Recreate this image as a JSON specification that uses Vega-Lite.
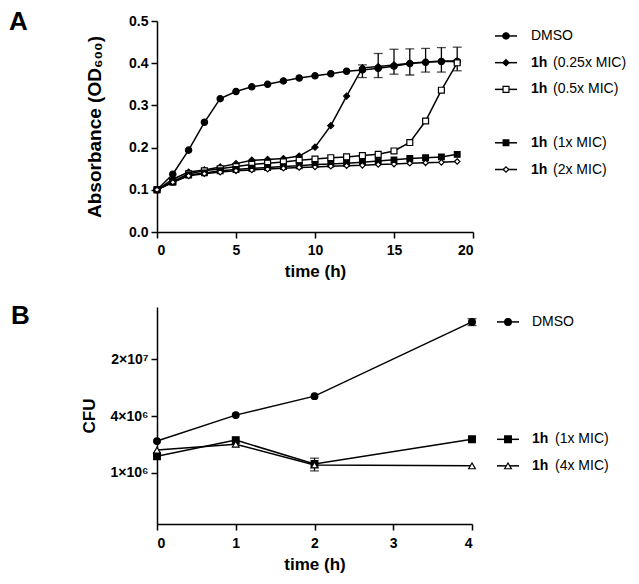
{
  "$schema": "https://vega.github.io/schema/vega-lite/v6.json",
  "padding": {"left": 9, "top": 9, "right": 5, "bottom": 4},
  "config": {
    "font": "Liberation Sans",
    "view": {"stroke": null},
    "axis": {
      "grid": false,
      "domainColor": "black", "domainWidth": 1.5,
      "tickColor": "black", "tickWidth": 1.5, "tickSize": 6,
      "labelFont": "Liberation Sans", "labelFontWeight": "bold", "labelFontSize": 14, "labelColor": "black", "labelPadding": 3,
      "titleFont": "Liberation Sans", "titleFontWeight": "bold", "titleFontSize": 17, "titleColor": "black"
    }
  },
  "resolve": {"scale": {"shape": "independent", "fill": "independent", "size": "independent"}},
  "datasets": {
    "growth": [
      {"series":"DMSO","time":0,"od":0.100},{"series":"DMSO","time":1,"od":0.137},{"series":"DMSO","time":2,"od":0.194},{"series":"DMSO","time":3,"od":0.260},{"series":"DMSO","time":4,"od":0.316},{"series":"DMSO","time":5,"od":0.333},{"series":"DMSO","time":6,"od":0.344},{"series":"DMSO","time":7,"od":0.350},{"series":"DMSO","time":8,"od":0.358},{"series":"DMSO","time":9,"od":0.365},{"series":"DMSO","time":10,"od":0.370},{"series":"DMSO","time":11,"od":0.375},{"series":"DMSO","time":12,"od":0.381},{"series":"DMSO","time":13,"od":0.384},{"series":"DMSO","time":14,"od":0.388},{"series":"DMSO","time":15,"od":0.393},{"series":"DMSO","time":16,"od":0.399},{"series":"DMSO","time":17,"od":0.402},{"series":"DMSO","time":18,"od":0.404},{"series":"DMSO","time":19,"od":0.404},
      {"series":"0.25x MIC","time":0,"od":0.100},{"series":"0.25x MIC","time":1,"od":0.125},{"series":"0.25x MIC","time":2,"od":0.142},{"series":"0.25x MIC","time":3,"od":0.147},{"series":"0.25x MIC","time":4,"od":0.154},{"series":"0.25x MIC","time":5,"od":0.162},{"series":"0.25x MIC","time":6,"od":0.170},{"series":"0.25x MIC","time":7,"od":0.172},{"series":"0.25x MIC","time":8,"od":0.174},{"series":"0.25x MIC","time":9,"od":0.180},{"series":"0.25x MIC","time":10,"od":0.201},{"series":"0.25x MIC","time":11,"od":0.252},{"series":"0.25x MIC","time":12,"od":0.322},{"series":"0.25x MIC","time":13,"od":0.389},{"series":"0.25x MIC","time":14,"od":0.392},{"series":"0.25x MIC","time":15,"od":0.396},{"series":"0.25x MIC","time":16,"od":0.400},{"series":"0.25x MIC","time":17,"od":0.403},{"series":"0.25x MIC","time":18,"od":0.405},{"series":"0.25x MIC","time":19,"od":0.405},
      {"series":"0.5x MIC","time":0,"od":0.100},{"series":"0.5x MIC","time":1,"od":0.120},{"series":"0.5x MIC","time":2,"od":0.138},{"series":"0.5x MIC","time":3,"od":0.145},{"series":"0.5x MIC","time":4,"od":0.150},{"series":"0.5x MIC","time":5,"od":0.155},{"series":"0.5x MIC","time":6,"od":0.160},{"series":"0.5x MIC","time":7,"od":0.163},{"series":"0.5x MIC","time":8,"od":0.166},{"series":"0.5x MIC","time":9,"od":0.170},{"series":"0.5x MIC","time":10,"od":0.173},{"series":"0.5x MIC","time":11,"od":0.176},{"series":"0.5x MIC","time":12,"od":0.178},{"series":"0.5x MIC","time":13,"od":0.181},{"series":"0.5x MIC","time":14,"od":0.184},{"series":"0.5x MIC","time":15,"od":0.192},{"series":"0.5x MIC","time":16,"od":0.212},{"series":"0.5x MIC","time":17,"od":0.263},{"series":"0.5x MIC","time":18,"od":0.336},{"series":"0.5x MIC","time":19,"od":0.401},
      {"series":"1x MIC","time":0,"od":0.100},{"series":"1x MIC","time":1,"od":0.118},{"series":"1x MIC","time":2,"od":0.135},{"series":"1x MIC","time":3,"od":0.140},{"series":"1x MIC","time":4,"od":0.145},{"series":"1x MIC","time":5,"od":0.148},{"series":"1x MIC","time":6,"od":0.151},{"series":"1x MIC","time":7,"od":0.153},{"series":"1x MIC","time":8,"od":0.155},{"series":"1x MIC","time":9,"od":0.157},{"series":"1x MIC","time":10,"od":0.160},{"series":"1x MIC","time":11,"od":0.161},{"series":"1x MIC","time":12,"od":0.163},{"series":"1x MIC","time":13,"od":0.165},{"series":"1x MIC","time":14,"od":0.168},{"series":"1x MIC","time":15,"od":0.171},{"series":"1x MIC","time":16,"od":0.174},{"series":"1x MIC","time":17,"od":0.176},{"series":"1x MIC","time":18,"od":0.178},{"series":"1x MIC","time":19,"od":0.184},
      {"series":"2x MIC","time":0,"od":0.100},{"series":"2x MIC","time":1,"od":0.118},{"series":"2x MIC","time":2,"od":0.133},{"series":"2x MIC","time":3,"od":0.138},{"series":"2x MIC","time":4,"od":0.142},{"series":"2x MIC","time":5,"od":0.145},{"series":"2x MIC","time":6,"od":0.147},{"series":"2x MIC","time":7,"od":0.149},{"series":"2x MIC","time":8,"od":0.151},{"series":"2x MIC","time":9,"od":0.153},{"series":"2x MIC","time":10,"od":0.154},{"series":"2x MIC","time":11,"od":0.156},{"series":"2x MIC","time":12,"od":0.157},{"series":"2x MIC","time":13,"od":0.158},{"series":"2x MIC","time":14,"od":0.160},{"series":"2x MIC","time":15,"od":0.161},{"series":"2x MIC","time":16,"od":0.163},{"series":"2x MIC","time":17,"od":0.164},{"series":"2x MIC","time":18,"od":0.165},{"series":"2x MIC","time":19,"od":0.167}
    ],
    "growthErr": [
      {"series":"0.25x MIC","time":13,"lo":0.366,"hi":0.396},
      {"series":"0.25x MIC","time":14,"lo":0.366,"hi":0.423},
      {"series":"0.25x MIC","time":15,"lo":0.374,"hi":0.433},
      {"series":"0.25x MIC","time":16,"lo":0.372,"hi":0.434},
      {"series":"0.25x MIC","time":17,"lo":0.379,"hi":0.435},
      {"series":"0.25x MIC","time":18,"lo":0.379,"hi":0.437},
      {"series":"0.25x MIC","time":19,"lo":0.382,"hi":0.438}
    ],
    "legendA": [
      {"series":"DMSO","slot":0},
      {"series":"0.25x MIC","slot":1},
      {"series":"0.5x MIC","slot":2},
      {"series":"1x MIC","slot":4},
      {"series":"2x MIC","slot":5}
    ],
    "cfu": [
      {"series":"DMSO","time":0,"cfu":2310000},{"series":"DMSO","time":1,"cfu":4590000},{"series":"DMSO","time":2,"cfu":7580000},{"series":"DMSO","time":4,"cfu":53900000},
      {"series":"1x MIC","time":0,"cfu":1550000},{"series":"1x MIC","time":1,"cfu":2370000},{"series":"1x MIC","time":2,"cfu":1260000},{"series":"1x MIC","time":4,"cfu":2420000},
      {"series":"4x MIC","time":0,"cfu":1820000},{"series":"4x MIC","time":1,"cfu":2130000},{"series":"4x MIC","time":2,"cfu":1230000},{"series":"4x MIC","time":4,"cfu":1200000}
    ],
    "cfuErr": [
      {"series":"1x MIC","time":2,"lo":1050000,"hi":1470000},
      {"series":"DMSO","time":4,"lo":49000000,"hi":58700000}
    ]
  },
  "columns": 1,
  "align": "none",
  "spacing": 24,
  "concat": [
    {
      "width": 316,
      "height": 211,
      "title": {"text": "A", "anchor": "start", "frame": "group", "fontSize": 26, "fontWeight": "bold", "color": "black", "baseline": "alphabetic", "offset": -42, "dx": -148},
      "resolve": {"scale": {"y": "independent"}},
      "layer": [
        {
          "layer": [
            {
              "data": {"name": "growth"},
              "mark": {"type": "line", "color": "black", "strokeWidth": 1.5},
              "encoding": {
                "x": {"field": "time", "type": "quantitative", "scale": {"domain": [0, 20]}, "axis": {"values": [0, 5, 10, 15, 20], "format": "d", "title": "time (h)", "titlePadding": 6, "labelPadding": 5}},
                "y": {"field": "od", "type": "quantitative", "scale": {"domain": [0, 0.5], "nice": false}, "axis": {"values": [0, 0.1, 0.2, 0.3, 0.4, 0.5], "format": ".1f", "title": "Absorbance (OD₆₀₀)", "titlePadding": 24, "titleFontSize": 19}},
                "detail": {"field": "series"}
              }
            },
            {
              "data": {"name": "growthErr"},
              "mark": {"type": "errorbar", "color": "black", "thickness": 1.3, "ticks": {"size": 9, "thickness": 1.3}},
              "encoding": {
                "x": {"field": "time", "type": "quantitative", "title": "time (h)"},
                "y": {"field": "lo", "type": "quantitative", "title": "Absorbance (OD₆₀₀)"},
                "y2": {"field": "hi"}
              }
            },
            {
              "data": {"name": "growth"},
              "mark": {"type": "point", "filled": true, "stroke": "black", "strokeWidth": 1.2, "opacity": 1},
              "encoding": {
                "x": {"field": "time", "type": "quantitative", "title": "time (h)"},
                "y": {"field": "od", "type": "quantitative", "title": "Absorbance (OD₆₀₀)"},
                "shape": {"field": "series", "type": "nominal", "scale": {"domain": ["DMSO", "0.25x MIC", "0.5x MIC", "1x MIC", "2x MIC"], "range": ["circle", "diamond", "square", "square", "diamond"]}, "legend": null},
                "fill": {"field": "series", "type": "nominal", "scale": {"domain": ["DMSO", "0.25x MIC", "0.5x MIC", "1x MIC", "2x MIC"], "range": ["black", "black", "white", "black", "white"]}, "legend": null},
                "size": {"field": "series", "type": "nominal", "scale": {"domain": ["DMSO", "0.25x MIC", "0.5x MIC", "1x MIC", "2x MIC"], "range": [40, 30, 40, 36, 36]}, "legend": null}
              }
            }
          ]
        },
        {
          "data": {"name": "legendA"},
          "transform": [
            {"calculate": "datum.series == 'DMSO' ? '' : '1h'", "as": "boldPart"},
            {"calculate": "datum.series == 'DMSO' ? 'DMSO' : '(' + datum.series + ')'", "as": "restPart"}
          ],
          "encoding": {
            "x": {"datum": 20, "type": "quantitative"},
            "y": {"field": "slot", "type": "quantitative", "scale": {"domain": [-0.56, 7.34], "reverse": true, "nice": false, "zero": false}, "axis": null}
          },
          "layer": [
            {"mark": {"type": "rule", "color": "black", "strokeWidth": 1.5, "xOffset": 22, "x2Offset": 44}, "encoding": {"x2": {"datum": 20}}},
            {
              "mark": {"type": "point", "filled": true, "stroke": "black", "strokeWidth": 1.2, "opacity": 1, "xOffset": 33},
              "encoding": {
                "shape": {"field": "series", "type": "nominal", "scale": {"domain": ["DMSO", "0.25x MIC", "0.5x MIC", "1x MIC", "2x MIC"], "range": ["circle", "diamond", "square", "square", "diamond"]}, "legend": null},
                "fill": {"field": "series", "type": "nominal", "scale": {"domain": ["DMSO", "0.25x MIC", "0.5x MIC", "1x MIC", "2x MIC"], "range": ["black", "black", "white", "black", "white"]}, "legend": null},
                "size": {"field": "series", "type": "nominal", "scale": {"domain": ["DMSO", "0.25x MIC", "0.5x MIC", "1x MIC", "2x MIC"], "range": [40, 30, 40, 36, 36]}, "legend": null}
              }
            },
            {"transform": [{"filter": "datum.boldPart != ''"}], "mark": {"type": "text", "align": "left", "baseline": "middle", "dx": 58, "fontSize": 14, "fontWeight": "bold", "color": "black"}, "encoding": {"text": {"field": "boldPart"}}},
            {"transform": [{"filter": "datum.boldPart != ''"}], "mark": {"type": "text", "align": "left", "baseline": "middle", "dx": 80, "fontSize": 14, "color": "black"}, "encoding": {"text": {"field": "restPart"}}},
            {"transform": [{"filter": "datum.boldPart == ''"}], "mark": {"type": "text", "align": "left", "baseline": "middle", "dx": 58, "fontSize": 14, "color": "black"}, "encoding": {"text": {"field": "restPart"}}}
          ]
        }
      ]
    },
    {
      "width": 315,
      "height": 217,
      "title": {"text": "B", "anchor": "start", "frame": "group", "fontSize": 26, "fontWeight": "bold", "color": "black", "baseline": "alphabetic", "offset": -43, "dx": -146},
      "layer": [
        {
          "data": {"name": "cfu"},
          "mark": {"type": "line", "color": "black", "strokeWidth": 1.5},
          "encoding": {
            "x": {"field": "time", "type": "quantitative", "scale": {"domain": [0, 4]}, "axis": {"values": [0, 1, 2, 3, 4], "format": "d", "title": "time (h)", "titlePadding": 6, "labelPadding": 6}},
            "y": {"field": "cfu", "type": "quantitative", "scale": {"type": "log", "domain": [258000, 80000000], "nice": false}, "axis": {"values": [1000000, 4477000, 20000000], "labelExpr": "datum.value < 2000000 ? '1×10⁶' : (datum.value < 10000000 ? '4×10⁶' : '2×10⁷')", "title": "CFU", "titlePadding": 12}},
            "detail": {"field": "series"}
          }
        },
        {
          "data": {"name": "cfuErr"},
          "mark": {"type": "errorbar", "color": "black", "thickness": 1.3, "ticks": {"size": 9, "thickness": 1.3}},
          "encoding": {
            "x": {"field": "time", "type": "quantitative", "title": "time (h)"},
            "y": {"field": "lo", "type": "quantitative", "title": "CFU"},
            "y2": {"field": "hi"}
          }
        },
        {
          "data": {"name": "cfu"},
          "mark": {"type": "point", "filled": true, "stroke": "black", "strokeWidth": 1.2, "opacity": 1},
          "encoding": {
            "x": {"field": "time", "type": "quantitative", "title": "time (h)"},
            "y": {"field": "cfu", "type": "quantitative", "title": "CFU"},
            "shape": {"field": "series", "type": "nominal", "scale": {"domain": ["DMSO", "1x MIC", "4x MIC"], "range": ["circle", "square", "triangle-up"]}, "legend": null},
            "fill": {"field": "series", "type": "nominal", "scale": {"domain": ["DMSO", "1x MIC", "4x MIC"], "range": ["black", "black", "white"]}, "legend": null},
            "size": {"field": "series", "type": "nominal", "scale": {"domain": ["DMSO", "1x MIC", "4x MIC"], "range": [45, 45, 70]}, "legend": null}
          }
        },
        {
          "data": {"name": "cfu"},
          "transform": [
            {"filter": "datum.time == 4"},
            {"calculate": "datum.series == 'DMSO' ? '' : '1h'", "as": "boldPart"},
            {"calculate": "datum.series == 'DMSO' ? 'DMSO' : '(' + datum.series + ')'", "as": "restPart"}
          ],
          "encoding": {
            "x": {"datum": 4, "type": "quantitative"},
            "y": {"field": "cfu", "type": "quantitative", "title": "CFU"}
          },
          "layer": [
            {"mark": {"type": "rule", "color": "black", "strokeWidth": 1.5, "xOffset": 25, "x2Offset": 47}, "encoding": {"x2": {"datum": 4}}},
            {
              "mark": {"type": "point", "filled": true, "stroke": "black", "strokeWidth": 1.2, "opacity": 1, "xOffset": 36},
              "encoding": {
                "shape": {"field": "series", "type": "nominal", "scale": {"domain": ["DMSO", "1x MIC", "4x MIC"], "range": ["circle", "square", "triangle-up"]}, "legend": null},
                "fill": {"field": "series", "type": "nominal", "scale": {"domain": ["DMSO", "1x MIC", "4x MIC"], "range": ["black", "black", "white"]}, "legend": null},
                "size": {"field": "series", "type": "nominal", "scale": {"domain": ["DMSO", "1x MIC", "4x MIC"], "range": [45, 45, 70]}, "legend": null}
              }
            },
            {"transform": [{"filter": "datum.boldPart != ''"}], "mark": {"type": "text", "align": "left", "baseline": "middle", "dx": 60, "fontSize": 14, "fontWeight": "bold", "color": "black"}, "encoding": {"text": {"field": "boldPart"}}},
            {"transform": [{"filter": "datum.boldPart != ''"}], "mark": {"type": "text", "align": "left", "baseline": "middle", "dx": 83, "fontSize": 14, "color": "black"}, "encoding": {"text": {"field": "restPart"}}},
            {"transform": [{"filter": "datum.boldPart == ''"}], "mark": {"type": "text", "align": "left", "baseline": "middle", "dx": 60, "fontSize": 14, "color": "black"}, "encoding": {"text": {"field": "restPart"}}}
          ]
        }
      ]
    }
  ]
}
